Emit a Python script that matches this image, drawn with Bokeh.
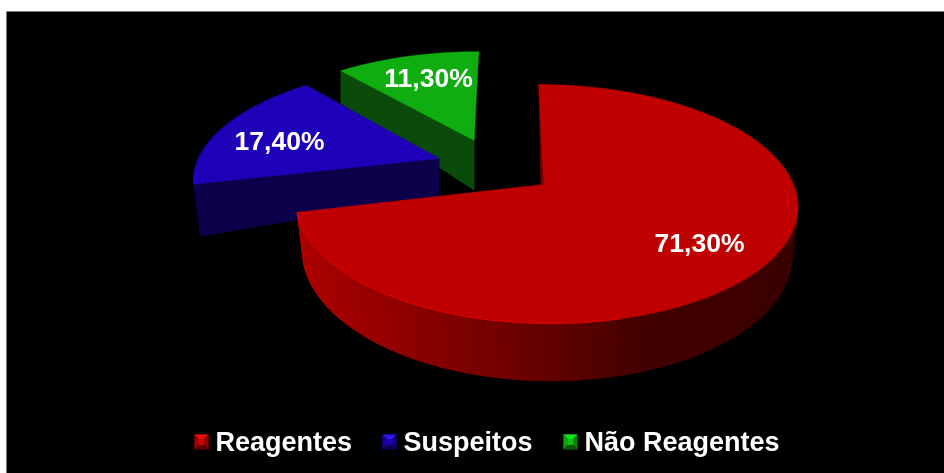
import numpy as np
from bokeh.plotting import figure
from bokeh.models import Range1d
from bokeh.embed import file_html
from bokeh.resources import INLINE
from bokeh.core.properties import value

# ---- data ----
categories = ["Reagentes", "Suspeitos", "Não Reagentes"]
shares = [71.3, 17.4, 11.3]
share_labels = ["71,30%", "17,40%", "11,30%"]

# ---- styles ----
top_colors = ["#BF0000", "#1F00B8", "#10AD10"]
wall_colors = ["#4A0000", "#0C004A", "#0A4A0A"]
FONT = "Liberation Sans"
W, H = 938, 462
X0, Y0 = 6, 11

# ---- perspective model of the exploded pie ----
CX, CY, RX, RY, K, SHEAR = 543, 184, 250, 116.3, 0.163, 0.05
BOTTOM_X = 0.975
LEFT_SQUEEZE = 0.98
RED_H = 48
explode = [(0.0, 0.0), (-0.428, -0.232), (-0.286, -0.404)]   # disc-plane offsets
label_pos = [(699, 242), (279, 140), (428, 77)]
# radial wall: height at (rim, apex) and sideways shift of the rim's foot
wall_h = [(48, 48), (52, 38.4), (39, 53)]
wall_dx = [0, 7, 0]


def project(u, v, h=0.0, shrink=1.0):
    u, v, h = np.asarray(u, float), np.asarray(v, float), np.asarray(h, float)
    w = 1 - K * v
    y = CY + RY * v / w
    x = CX + RX * u / w + SHEAR * (y - CY)
    return CX + (x - CX) * shrink, y + h / w


def slice_points(i, n=200):
    start = sum(shares[:i]) / sum(shares) * 2 * np.pi
    end = sum(shares[: i + 1]) / sum(shares) * 2 * np.pi
    t = np.linspace(start, end, n)
    u, v = explode[i][0] + np.sin(t), explode[i][1] - np.cos(t)
    if i == 0:
        u = np.where(u < 0, u * LEFT_SQUEEZE, u)
    return t, u, v


p = figure(width=W, height=H, output_backend="svg", toolbar_location=None,
           x_range=Range1d(X0, X0 + W), y_range=Range1d(Y0 + H, Y0),
           min_border=0, outline_line_color=None,
           background_fill_color="black", border_fill_color="black")
p.axis.visible = False
p.grid.visible = False
p.styles = {"position": "fixed", "left": f"{X0}px", "top": f"{Y0}px"}

# green, then blue, then red (back to front)
for i in (2, 1):
    t, u, v = slice_points(i)
    au, av = explode[i]
    # the radial wall facing the viewer starts at the slice's first angle
    ru, rv = u[0], v[0]
    hr, ha = wall_h[i]
    x1, y1 = project(ru, rv)
    x2, y2 = project(au, av)
    x3, y3 = project(au, av, ha)
    x4, y4 = project(ru, rv, hr)
    p.patch([x1, x2, x3, x4 + wall_dx[i]], [y1, y2, y3, y4],
            fill_color=wall_colors[i], line_color=wall_colors[i], line_width=0.5)
    xs, ys = project(u, v)
    p.patch(np.r_[xs, x2], np.r_[ys, y2], fill_color=top_colors[i],
            line_color=top_colors[i], line_width=0.5)

# red outer wall, as strips shaded from left to right
t, u, v = slice_points(0, 240)
front = v > -0.02
uf, vf = u[front], v[front]
xt, yt = project(uf, vf)
xb, yb = project(uf, vf, RED_H, BOTTOM_X)
stops_x = [296, 400, 480, 570, 650, 800]
stops_r = [176, 144, 122, 92, 66, 60]
strip_x, strip_y, strip_c = [], [], []
for j in range(len(uf) - 1):
    strip_x.append([xt[j], xt[j + 1], xb[j + 1], xb[j]])
    strip_y.append([yt[j], yt[j + 1], yb[j + 1], yb[j]])
    r = int(np.interp((xt[j] + xt[j + 1]) / 2, stops_x, stops_r))
    strip_c.append(f"#{r:02X}0000")
p.patches(strip_x, strip_y, fill_color=strip_c, line_color=strip_c, line_width=0.8)

# thin dark inner wall along the red slice's first radius
xs, ys = project(u, v)
ax, ay = project(0, 0)
p.patch([xs[0], ax, ax - 3], [ys[0], ay, ay], fill_color="#6A0000", line_color=None)

# red top
p.patch(np.r_[xs, ax], np.r_[ys, ay], fill_color=top_colors[0],
        line_color=top_colors[0], line_width=0.5)

# bright rim on the lit front-left edge
lit = (v > 0.0) & (u < 0.25)
lx, ly = project(u[lit], v[lit])
p.line(lx, ly, line_color="#E60000", line_width=1)

# percentage labels
p.text([q[0] for q in label_pos], [q[1] for q in label_pos], text=share_labels,
       text_color="white", text_font=value(FONT), text_font_style="bold",
       text_font_size="26.5px", text_align="center", text_baseline="middle")

# legend with bevelled markers
leg_x = [194, 382, 563]
leg_text_x = [215, 403, 584]
leg_y = 441.5
mw, mh = 14, 15
bevels = [("#E81010", "#A00000", "#8A0000", "#600000", "#C80000"),
          ("#3018E8", "#18009A", "#12007A", "#0C0050", "#1C00B8"),
          ("#14E814", "#0CA00C", "#0A800A", "#065806", "#0EBE0E")]
for lx0, b in zip(leg_x, bevels):
    cx, cy = lx0 + mw / 2, leg_y
    l, r, tp, bt = lx0, lx0 + mw, leg_y - mh / 2, leg_y + mh / 2
    tris = [([l, r, cx], [tp, tp, cy], b[0]), ([l, cx, l], [tp, cy, bt], b[1]),
            ([r, cx, r], [tp, cy, bt], b[2]), ([l, r, cx], [bt, bt, cy], b[3])]
    for tx, ty, c in tris:
        p.patch(tx, ty, fill_color=c, line_color=c, line_width=0.3)
    p.patch([cx - 3, cx + 3, cx + 3, cx - 3], [cy - 3, cy - 3, cy + 3, cy + 3],
            fill_color=b[4], line_color=None)
p.text(leg_text_x, [leg_y] * 3, text=categories, text_color="white",
       text_font=value(FONT), text_font_style="bold", text_font_size="27px",
       text_align="left", text_baseline="middle")

open("out.html", "w").write(file_html(p, INLINE))
